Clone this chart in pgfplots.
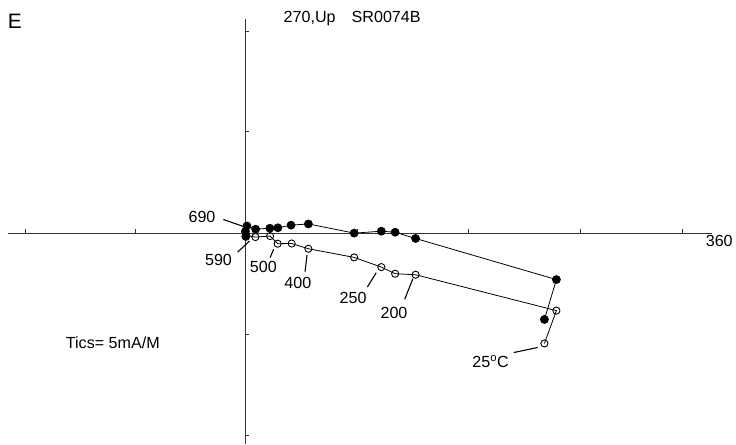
\documentclass[border=0pt]{standalone}
\usepackage{pgfplots}
\pgfplotsset{compat=1.18}
\usepackage{fontspec}
\setmainfont{Liberation Sans}
\begin{document}
\begin{tikzpicture}[font=\fontsize{16.2}{18}\selectfont]
\begin{axis}[
  width=736bp, height=445bp, scale only axis,
  xmin=-11.031, xmax=21.973, ymin=-10.446, ymax=11.584,
  hide axis, clip=false,
]
\path (rel axis cs:0,0) rectangle (rel axis cs:1,1);
% axes
\draw[line width=1pt, black!80] (axis cs:-10.67,0) -- (axis cs:20.99,0);
\draw[line width=1pt, black!80] (axis cs:0,10.64) -- (axis cs:0,-10.446);
\draw[line width=0.8pt, black!80] (axis cs:-9.91,0) -- (axis cs:-9.91,0.2);
\draw[line width=0.8pt, black!80] (axis cs:-4.93,0) -- (axis cs:-4.93,0.2);
\draw[line width=0.8pt, black!80] (axis cs:5.02,0) -- (axis cs:5.02,0.2);
\draw[line width=0.8pt, black!80] (axis cs:10.04,0) -- (axis cs:10.04,0.2);
\draw[line width=0.8pt, black!80] (axis cs:15.07,0) -- (axis cs:15.07,0.2);
\draw[line width=0.8pt, black!80] (axis cs:19.64,0) -- (axis cs:19.64,0.2);
\draw[line width=0.8pt, black!80] (axis cs:0,10.02) -- (axis cs:0.18,10.02);
\draw[line width=0.8pt, black!80] (axis cs:0,5.05) -- (axis cs:0.18,5.05);
\draw[line width=0.8pt, black!80] (axis cs:0,-5.0) -- (axis cs:0.18,-5.0);
\draw[line width=0.8pt, black!80] (axis cs:0,-10.0) -- (axis cs:0.18,-10.0);
% filled (vertical) projection
\addplot[black, line width=0.8pt, mark=*, mark size=4pt, mark options={fill=black}] coordinates {
 (13.44,-4.27) (13.98,-2.29) (7.65,-0.25) (6.73,0.06) (6.11,0.11) (4.89,0.015)
 (2.83,0.47) (2.05,0.41) (1.46,0.28) (1.10,0.26) (0.46,0.21) (0.07,0.37) (0,0.10) (0.02,-0.15)
};
% open (horizontal) projection
\addplot[black, line width=0.8pt, mark=o, mark size=3.6pt, mark options={fill=white, line width=0.9pt}] coordinates {
 (13.44,-5.46) (13.98,-3.83) (7.65,-2.05) (6.73,-2.00) (6.11,-1.67) (4.89,-1.19)
 (2.83,-0.76) (2.08,-0.50) (1.45,-0.51) (1.11,-0.13) (0.45,-0.18) (0.04,-0.10)
};
% leaders
\draw[line width=1.1pt] (axis cs:-0.99,0.69) -- (axis cs:-0.045,0.33);
\draw[line width=1.1pt] (axis cs:-0.35,-0.93) -- (axis cs:0.18,-0.38);
\draw[line width=1.1pt] (axis cs:1.11,-1.20) -- (axis cs:1.27,-0.78);
\draw[line width=1.1pt] (axis cs:2.68,-1.90) -- (axis cs:2.77,-1.07);
\draw[line width=1.1pt] (axis cs:5.48,-2.66) -- (axis cs:5.88,-1.95);
\draw[line width=1.1pt] (axis cs:7.16,-3.27) -- (axis cs:7.53,-2.24);
\draw[line width=1.1pt] (axis cs:12.06,-5.91) -- (axis cs:13.14,-5.66);
% labels
\node at (axis cs:-1.95,0.82) {690};
\node at (axis cs:-1.21,-1.34) {590};
\node at (axis cs:0.81,-1.68) {500};
\node at (axis cs:2.36,-2.45) {400};
\node at (axis cs:4.84,-3.22) {250};
\node at (axis cs:6.68,-3.96) {200};
\node at (axis cs:11.02,-6.34) {25\textsuperscript{o}C};
\node at (axis cs:-5.96,-5.42) {Tics= 5mA/M};
\node at (axis cs:21.30,-0.37) {360};
\node at (axis cs:4.80,10.64) {270,Up\hspace{1em}SR0074B};
\node[font=\fontsize{21}{24}\selectfont] at (axis cs:-10.36,10.55) {E};
\end{axis}
\end{tikzpicture}
\end{document}
